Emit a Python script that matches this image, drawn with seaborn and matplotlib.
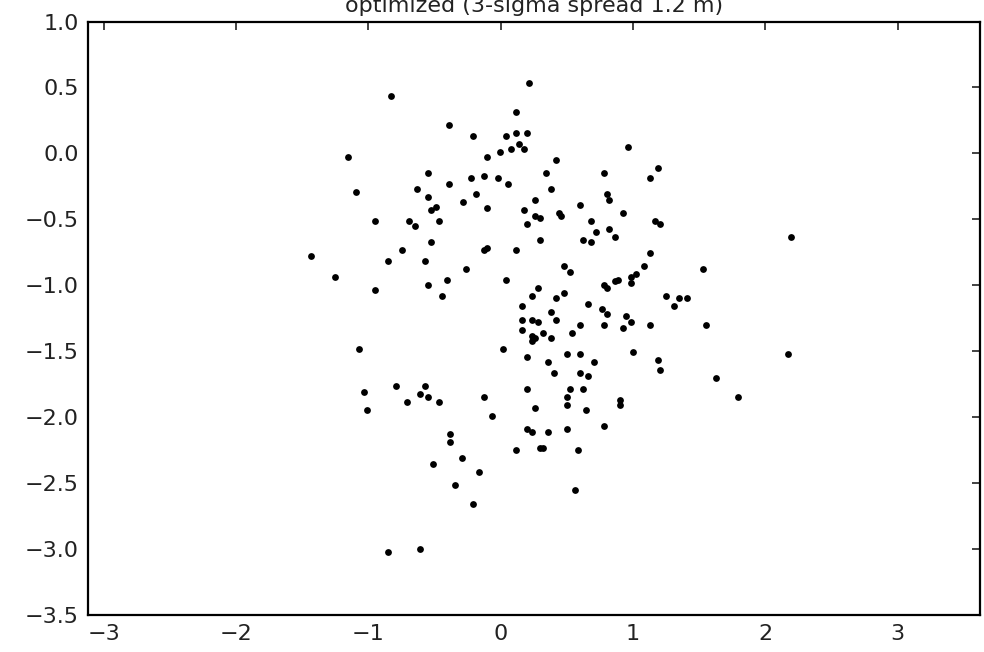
import matplotlib
matplotlib.use("Agg")
import matplotlib.pyplot as plt
import seaborn as sns
import pandas as pd

title_text = "optimized (3-sigma spread 1.2 m)"

x_vals = [
    -0.832, -0.389, -1.153, -0.548, -0.389, -1.094, -0.631, -0.548, -0.288, -0.528,
    -0.490, -0.951, -0.692, -0.649, -0.467, -0.528, -0.749, -1.435, -0.853, -0.571,
    -0.265, -1.255, -0.407, -0.951, -0.548, -0.447,
    0.215, 0.115, -0.208, 0.037, 0.115, 0.198, 0.135, 0.178, 0.075, -0.006,
    -0.107, 0.959, 0.420, 0.339, 0.780, -0.225, -0.127, -0.023, 0.057, 0.379,
    -0.187, 0.800, 0.820, 0.259, -0.107, 0.178, 0.259, 0.299, 0.438, 0.457,
    0.601, 0.921, 0.198, 0.682, 0.722, 0.820, 0.863, 0.621, 0.682, 0.299,
    -0.127, -0.107, 0.115, 0.037, 0.480, 0.521, 0.780, 0.800, 0.863, 0.884,
    0.279, 0.238, 0.480, 0.420, 0.158, 0.379, 0.661, 0.763, 0.803,
    1.186, 1.125, 1.166, 1.206, 2.193, 1.125, 1.082, 1.528, 1.022, 0.984,
    0.984, 1.246, 1.347, 1.407, 1.307,
    0.944, 0.984, 0.158, 0.238, 0.279, 0.420, 0.601, 0.780, 0.921, 0.158,
    0.238, 0.238, 0.259, 0.319, 0.379, 0.540, 0.014, 0.198, 0.357, 0.500,
    0.601, 0.702, 0.400, 0.601, 0.661, 0.198, 0.521, 0.621, -0.127, 0.500,
    0.500, 0.903, 0.903, 0.259, 0.642, -0.067, 0.198, 0.238, 0.357, 0.500,
    0.780, 0.115, 0.299, 0.319, 0.581, -0.296, -0.165, 0.561, -0.208,
    1.125, 1.549, 1.002, 1.186, 1.206, 2.173, 1.629, 1.791,
    -1.074, -1.032, -1.011, -0.790, -0.711, -0.611, -0.571, -0.548, -0.467, -0.386,
    -0.386, -0.510, -0.346, -0.853, -0.611,
]

y_vals = [
    0.435, 0.212, -0.030, -0.152, -0.233, -0.291, -0.271, -0.332, -0.372, -0.432,
    -0.410, -0.514, -0.514, -0.554, -0.514, -0.675, -0.736, -0.777, -0.817, -0.817,
    -0.878, -0.939, -0.959, -1.039, -0.999, -1.080,
    0.536, 0.313, 0.131, 0.131, 0.152, 0.152, 0.073, 0.030, 0.030, 0.010,
    -0.030, 0.050, -0.049, -0.149, -0.149, -0.190, -0.172, -0.190, -0.233, -0.271,
    -0.311, -0.311, -0.352, -0.352, -0.413, -0.432, -0.473, -0.493, -0.453, -0.473,
    -0.392, -0.453, -0.534, -0.514, -0.595, -0.574, -0.635, -0.656, -0.675, -0.656,
    -0.736, -0.716, -0.736, -0.959, -0.857, -0.898, -0.999, -1.020, -0.969, -0.959,
    -1.020, -1.080, -1.060, -1.100, -1.161, -1.202, -1.141, -1.181, -1.222,
    -0.109, -0.190, -0.514, -0.534, -0.635, -0.756, -0.857, -0.878, -0.916, -0.936,
    -0.982, -1.080, -1.100, -1.100, -1.161,
    -1.234, -1.282, -1.263, -1.263, -1.282, -1.263, -1.303, -1.303, -1.323, -1.343,
    -1.384, -1.424, -1.404, -1.363, -1.404, -1.363, -1.485, -1.546, -1.586, -1.525,
    -1.525, -1.586, -1.667, -1.667, -1.687, -1.788, -1.788, -1.788, -1.849, -1.849,
    -1.910, -1.870, -1.910, -1.930, -1.950, -1.991, -2.092, -2.112, -2.112, -2.092,
    -2.071, -2.253, -2.234, -2.234, -2.253, -2.314, -2.416, -2.557, -2.659,
    -1.303, -1.303, -1.505, -1.566, -1.646, -1.525, -1.707, -1.849,
    -1.485, -1.809, -1.950, -1.768, -1.889, -1.829, -1.768, -1.849, -1.889, -2.132,
    -2.193, -2.355, -2.517, -3.023, -3.002,
]

x_ticks = [-3, -2, -1, 0, 1, 2, 3]
y_ticks = [1.0, 0.5, 0.0, -0.5, -1.0, -1.5, -2.0, -2.5, -3.0, -3.5]

df = pd.DataFrame({"x": x_vals, "y": y_vals})

sns.set_theme(style="white")
plt.rcParams["font.family"] = ["DejaVu Sans"]
plt.rcParams.update({
    "xtick.direction": "in",
    "ytick.direction": "in",
    "xtick.top": True,
    "ytick.right": True,
})

fig = plt.figure(figsize=(9.84, 6.52), dpi=100)
ax = fig.add_axes([0.0897, 0.0575, 0.9066, 0.9095])

sns.scatterplot(data=df, x="x", y="y", color="black", s=24, linewidth=0,
                ax=ax, legend=False)

ax.set_xlim(-3.118, 3.625)
ax.set_ylim(-3.5, 1.0)
ax.set_xticks(x_ticks)
ax.set_yticks(y_ticks)
ax.set_xticklabels([f"{t:d}".replace("-", "\u2212") for t in x_ticks])
ax.set_yticklabels([f"{t:.1f}".replace("-", "\u2212") for t in y_ticks])
ax.set_xlabel("")
ax.set_ylabel("")

ax.tick_params(axis="both", which="both", direction="in", length=6, width=1.2,
               labelsize=16, colors="#222222", top=True, right=True, pad=7)
for sp in ax.spines.values():
    sp.set_visible(True)
    sp.set_color("black")
    sp.set_linewidth(1.6)

ax.set_title(title_text, fontsize=16, pad=6.5, color="#222222")

fig.savefig("out.png", dpi=100, facecolor="white")
